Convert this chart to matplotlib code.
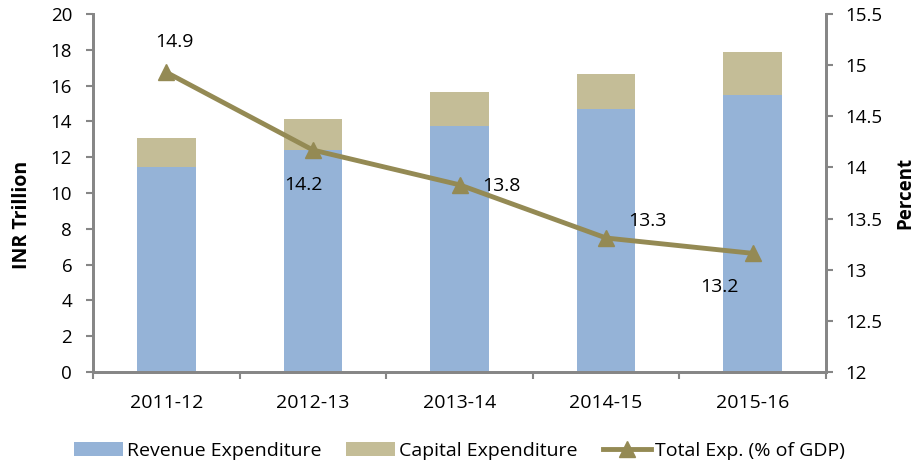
import numpy as np
import matplotlib
matplotlib.use("Agg")
from matplotlib import pyplot as plt

plt.rcParams['font.family'] = ['Open Sans', 'DejaVu Sans']

years = ['2011-12', '2012-13', '2013-14', '2014-15', '2015-16']
revenue_exp = [11.45, 12.4, 13.74, 14.69, 15.47]
capital_exp = [1.62, 1.73, 1.9, 1.96, 2.41]
total_pct_gdp = [14.93, 14.17, 13.83, 13.31, 13.16]

blue = '#95B3D7'
tan = '#C4BD97'
olive = '#948A54'
grey = '#868686'

fig = plt.figure(figsize=(9.19, 4.65), dpi=100)
ax = fig.add_axes([93 / 919, 1 - 372 / 465, (826 - 93) / 919, (372 - 14) / 465])
x = np.arange(len(years))

ax.bar(x, revenue_exp, width=0.4, color=blue, label='Revenue Expenditure')
ax.bar(x, capital_exp, width=0.4, bottom=revenue_exp, color=tan, label='Capital Expenditure')
ax.set_xlim(-0.5, len(years) - 0.5)
ax.set_ylim(0, 20)
ax.set_yticks(np.arange(0, 21, 2))
ax.set_xticks(x)
ax.set_xticklabels(years, fontsize=14)
ax.set_xticks(np.arange(-0.5, len(years)), minor=True)
ax.tick_params(axis='x', which='major', length=0, pad=16)
ax.tick_params(axis='x', which='minor', length=5, color=grey, width=1.5)
ax.tick_params(axis='y', length=5, color=grey, width=1.5, labelsize=13.5, pad=10)
ax.set_ylabel('INR Trillion', fontsize=14, fontweight='bold')
ax.yaxis.set_label_coords(-0.083, 0.44)

ax2 = ax.twinx()
ax2.plot(x, total_pct_gdp, color=olive, lw=3.5, marker='^', ms=11,
         label='Total Exp. (% of GDP)')
ax2.set_ylim(12, 15.5)
ax2.set_yticks(np.arange(12, 15.6, 0.5))
ax2.set_yticklabels(['12', '12.5', '13', '13.5', '14', '14.5', '15', '15.5'])
ax2.tick_params(axis='y', length=5, color=grey, width=1.5, labelsize=13.5, pad=9)
ax2.set_ylabel('Percent', fontsize=13.5, fontweight='bold')
ax2.yaxis.set_label_coords(1.094, 0.5)

offsets = [(6, 22), (-7, -25), (30, -1), (30, 12), (-24, -24)]
for xi, v, (dx, dy) in zip(x, total_pct_gdp, offsets):
    ax2.annotate(f'{v:.1f}', (xi, v), xytext=(dx, dy), textcoords='offset points',
                 ha='center', va='center', fontsize=14)

for a in (ax, ax2):
    a.spines['top'].set_visible(False)
    for side in ('left', 'right', 'bottom'):
        a.spines[side].set_color(grey)
        a.spines[side].set_linewidth(2)

h1, l1 = ax.get_legend_handles_labels()
h2, l2 = ax2.get_legend_handles_labels()
fig.legend(h1 + h2, l1 + l2, loc='center', bbox_to_anchor=(0.5, 1 - 451 / 465),
           ncol=3, frameon=False, fontsize=14, handlelength=2.5, handleheight=0.7,
           columnspacing=1.3, handletextpad=0.2)

fig.savefig('out.png', dpi=100)
